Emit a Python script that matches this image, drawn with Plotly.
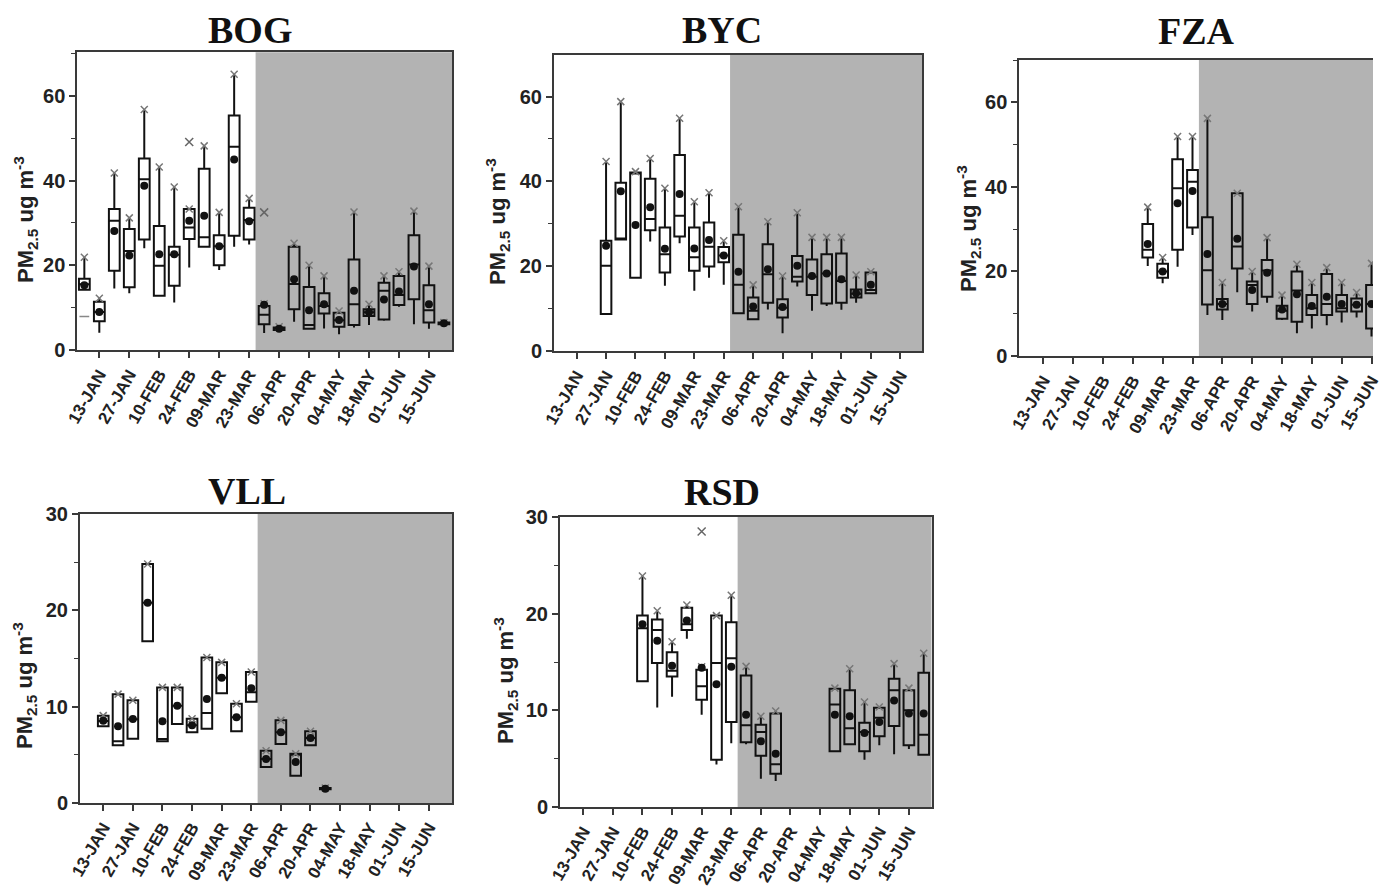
import plotly.graph_objects as go

W, H = 1384, 890

TICK_WEEKS = list(range(0, 23, 2))
TICK_TEXT = ["13-JAN", "27-JAN", "10-FEB", "24-FEB", "09-MAR", "23-MAR",
             "06-APR", "20-APR", "04-MAY", "18-MAY", "01-JUN", "15-JUN"]
SHADE_START = 10.43

# ---------------- BOG ----------------
BOG_WEEK = list(range(-1, 24))
BOG_Q1 = [14.2, 6.8, 18.7, 14.8, 26.1, 12.8, 15.2, 26.2, 24.4, 20.0, 27.0, 26.1, 6.1,
          4.7, 9.6, 5.0, 8.6, 5.5, 5.9, 8.0, 7.2, 10.6, 12.0, 6.5, 6.1]
BOG_MED = [15.5, 9.0, 30.5, 23.4, 40.3, 19.9, 22.5, 28.9, 26.6, 24.5, 48.0, 30.7, 8.3,
           5.0, 15.6, 5.9, 10.4, 7.0, 10.8, 8.9, 14.0, 13.0, 20.2, 9.4, 6.3]
BOG_Q3 = [16.8, 11.4, 33.3, 28.6, 45.2, 29.3, 24.4, 33.3, 42.8, 27.1, 55.4, 33.6, 10.4,
          5.3, 24.4, 14.9, 13.4, 8.8, 21.4, 9.6, 15.9, 17.5, 27.1, 15.3, 6.5]
BOG_LO = [14.2, 4.1, 14.5, 13.4, 24.0, 12.8, 11.2, 19.5, 24.4, 18.9, 24.4, 24.9, 4.0,
          4.5, 6.7, 5.0, 5.1, 3.7, 5.3, 5.9, 6.9, 10.2, 6.1, 5.0, 6.1]
BOG_HI = [21.9, 12.2, 41.8, 31.2, 56.8, 43.2, 38.5, 33.3, 48.2, 32.5, 65.1, 35.8, 10.9,
          5.5, 25.2, 20.0, 17.5, 9.2, 32.6, 10.8, 17.5, 18.5, 32.8, 19.8, 6.5]
BOG_MEAN = [15.3, 9.0, 28.1, 22.3, 38.8, 22.6, 22.6, 30.5, 31.7, 24.5, 45.0, 30.4, 10.7,
            5.0, 16.7, 9.4, 10.8, 7.1, 14.0, 8.9, 11.9, 13.8, 19.7, 10.8, 6.3]
BOG_OUT_WEEK = [6, 11]
BOG_OUT_VAL = [49.1, 32.5]
BOG_MIN_WEEK = [-1]
BOG_MIN_VAL = [7.9]

# ---------------- BYC ----------------
BYC_WEEK = list(range(2, 21))
BYC_Q1 = [8.7, 26.3, 17.3, 28.5, 18.5, 27.0, 18.9, 19.9, 20.9, 8.9, 7.5, 11.4, 7.9,
          16.4, 13.2, 11.2, 11.4, 12.6, 13.6]
BYC_MED = [20.1, 26.5, 42.0, 31.1, 22.8, 31.9, 22.1, 24.6, 22.5, 15.6, 9.5, 18.1, 10.2,
           17.5, 17.5, 18.3, 16.5, 13.5, 14.4]
BYC_Q3 = [26.0, 39.7, 42.1, 40.6, 29.1, 46.2, 29.1, 30.3, 24.5, 27.4, 12.6, 25.2, 12.2,
          22.4, 21.6, 22.8, 23.0, 14.5, 18.5]
BYC_LO = [8.7, 26.3, 17.3, 25.8, 15.4, 25.4, 14.2, 17.3, 15.6, 8.9, 7.5, 9.8, 4.2,
          15.2, 9.5, 10.6, 9.7, 11.4, 13.6]
BYC_HI = [44.7, 58.8, 42.3, 45.4, 38.4, 54.9, 35.2, 37.3, 26.0, 34.0, 15.6, 30.5, 17.7,
          32.6, 26.8, 26.8, 26.8, 17.9, 18.7]
BYC_MEAN = [24.8, 37.7, 29.7, 33.9, 24.1, 37.0, 24.2, 26.2, 22.5, 18.7, 10.5, 19.3, 10.4,
            20.1, 17.7, 18.3, 16.9, 13.6, 15.6]

# ---------------- FZA ----------------
FZA_WEEK = list(range(7, 23))
FZA_Q1 = [23.3, 18.5, 25.1, 30.4, 12.2, 11.0, 20.7, 12.3, 14.0, 8.8, 8.1, 9.7, 9.7, 10.5, 10.5, 6.5]
FZA_MED = [25.1, 20.0, 39.7, 41.2, 20.3, 12.3, 25.9, 16.8, 20.2, 10.7, 15.5, 11.3, 12.3, 11.3, 12.1, 12.3]
FZA_Q3 = [31.2, 21.8, 46.5, 44.0, 32.8, 13.5, 38.5, 17.6, 22.7, 11.9, 20.0, 14.4, 19.4, 14.4, 13.6, 16.8]
FZA_LO = [21.3, 17.2, 21.1, 28.6, 9.7, 8.5, 15.1, 10.5, 12.6, 8.5, 5.4, 6.5, 7.3, 7.9, 9.1, 4.6]
FZA_HI = [35.2, 23.3, 51.9, 51.9, 56.2, 17.4, 38.5, 20.0, 28.0, 14.4, 21.7, 17.4, 20.9, 17.4, 15.0, 21.9]
FZA_MEAN = [26.5, 20.0, 36.1, 39.0, 24.1, 12.3, 27.7, 15.6, 19.7, 11.0, 14.6, 11.8, 14.0, 12.3, 12.1, 12.3]

# ---------------- VLL ----------------
VLL_WEEK = list(range(0, 16))
VLL_Q1 = [7.96, 6.0, 6.68, 16.8, 6.4, 8.2, 7.34, 7.7, 11.4, 7.44, 10.5, 3.74, 6.12, 2.84, 5.99, 1.42]
VLL_MED = [8.5, 6.4, 8.7, 20.8, 6.64, 10.1, 8.06, 9.34, 13.0, 8.9, 11.5, 4.57, 7.34, 5.0, 6.75, 1.49]
VLL_Q3 = [9.07, 11.3, 10.66, 24.8, 12.0, 12.0, 8.75, 15.1, 14.6, 10.3, 13.6, 5.43, 8.58, 5.12, 7.44, 1.56]
VLL_MEAN = [8.55, 7.96, 8.72, 20.8, 8.48, 10.1, 8.06, 10.8, 13.0, 8.9, 11.9, 4.57, 7.34, 4.26, 6.75, 1.49]

# ---------------- RSD ----------------
RSD_WEEK = [4, 5, 6, 7, 8, 9, 10, 11, 12, 13, 17, 18, 19, 20, 21, 22, 23]
RSD_Q1 = [13.0, 14.9, 13.5, 18.3, 11.1, 4.9, 8.8, 6.7, 5.3, 3.45, 5.76, 6.48, 5.76, 7.31, 8.38, 6.4, 5.41]
RSD_MED = [18.5, 18.3, 14.1, 18.9, 12.5, 14.9, 15.4, 8.45, 7.76, 4.41, 10.6, 8.14, 7.76, 9.24, 12.07, 10.0, 7.48]
RSD_Q3 = [19.8, 19.4, 16.0, 20.6, 14.2, 19.8, 19.1, 13.6, 8.5, 9.66, 12.24, 12.07, 8.72, 10.28, 13.28, 12.07, 13.9]
RSD_LO = [13.0, 10.3, 11.4, 17.4, 9.55, 4.4, 6.6, 6.5, 2.93, 2.69, 5.76, 6.48, 4.9, 6.38, 5.45, 6.0, 5.3]
RSD_HI = [23.9, 20.3, 17.1, 20.9, 14.5, 19.8, 21.9, 14.55, 9.38, 9.93, 12.3, 14.3, 10.86, 10.34, 14.83, 12.3, 15.9]
RSD_MEAN = [18.9, 17.2, 14.6, 19.3, 14.4, 12.7, 14.5, 9.55, 6.8, 5.5, 9.55, 9.38, 7.66, 8.79, 11.03, 9.66, 9.66]
RSD_OUT_WEEK = [8]
RSD_OUT_VAL = [28.5]

# ---------------- panel geometry (pixels) ----------------
PANELS = [
    dict(name="BOG", ax="", xpx=(77.3, 452.3), ypx=(52.3, 350), xr=[-1.47, 23.56], yr=[0, 70.3],
         dt=20, title=(250, 30), ytitle=(26, 220), right=True),
    dict(name="BYC", ax="2", xpx=(554, 922.3), ypx=(55, 351), xr=[-1.54, 23.5], yr=[0, 69.8],
         dt=20, title=(722, 30), ytitle=(497, 222), right=True),
    dict(name="FZA", ax="3", xpx=(1019.3, 1373), ypx=(60, 356), xr=[-1.61, 22.1], yr=[0, 70],
         dt=20, title=(1196, 31), ytitle=(968, 229), right=False),
    dict(name="VLL", ax="4", xpx=(80, 452.3), ypx=(514, 803), xr=[-1.57, 23.58], yr=[0, 30],
         dt=10, title=(247, 491), ytitle=(24, 686), right=True),
    dict(name="RSD", ax="5", xpx=(560, 931.7), ypx=(517, 807), xr=[-1.57, 23.54], yr=[0, 30],
         dt=10, title=(722, 492), ytitle=(505, 681), right=True),
]

DATA = {
    "BOG": (BOG_WEEK, BOG_Q1, BOG_MED, BOG_Q3, BOG_LO, BOG_HI, BOG_MEAN),
    "BYC": (BYC_WEEK, BYC_Q1, BYC_MED, BYC_Q3, BYC_LO, BYC_HI, BYC_MEAN),
    "FZA": (FZA_WEEK, FZA_Q1, FZA_MED, FZA_Q3, FZA_LO, FZA_HI, FZA_MEAN),
    "VLL": (VLL_WEEK, VLL_Q1, VLL_MED, VLL_Q3, VLL_Q1, VLL_Q3, VLL_MEAN),
    "RSD": (RSD_WEEK, RSD_Q1, RSD_MED, RSD_Q3, RSD_LO, RSD_HI, RSD_MEAN),
}

fig = go.Figure()
LINE = "#3a3a3a"
SHADE = "#b3b3b3"
TICKFONT = dict(family="Liberation Sans, Arial, sans-serif", size=17, color="#222", weight="bold")
YTICKFONT = dict(family="Liberation Sans, Arial, sans-serif", size=20, color="#222", weight="bold")

annotations = []
shapes = []

for p in PANELS:
    xa = "x" + p["ax"]
    ya = "y" + p["ax"]
    wk, q1, med, q3, lo, hi, mean = DATA[p["name"]]

    fig.add_trace(go.Box(
        x=wk, q1=q1, median=med, q3=q3, lowerfence=lo, upperfence=hi,
        width=0.72, whiskerwidth=0, fillcolor="rgba(0,0,0,0)",
        line=dict(color="#111", width=2), boxpoints=False,
        xaxis=xa, yaxis=ya, showlegend=False, hoverinfo="skip",
    ))
    fig.add_trace(go.Scatter(
        x=wk, y=hi, mode="markers", xaxis=xa, yaxis=ya, showlegend=False, hoverinfo="skip",
        marker=dict(symbol="x-thin", size=7, line=dict(color="#777", width=1.5)),
    ))
    fig.add_trace(go.Scatter(
        x=wk, y=mean, mode="markers", xaxis=xa, yaxis=ya, showlegend=False, hoverinfo="skip",
        marker=dict(symbol="circle", size=8, color="#111"),
    ))

    x0 = p["xpx"][0] / W
    x1 = p["xpx"][1] / W
    y0 = 1 - p["ypx"][1] / H
    y1 = 1 - p["ypx"][0] / H
    axkey = "xaxis" + p["ax"]
    aykey = "yaxis" + p["ax"]
    fig.layout[axkey] = dict(
        domain=[x0, x1], range=p["xr"], anchor=ya, automargin=False,
        tickmode="array", tickvals=TICK_WEEKS, ticktext=TICK_TEXT, tickangle=-60,
        ticks="outside", ticklen=6, tickwidth=1.5, tickcolor=LINE,
        showline=True, linecolor=LINE, linewidth=2, mirror=True,
        showgrid=False, zeroline=False, tickfont=TICKFONT,
    )
    fig.layout[aykey] = dict(
        domain=[y0, y1], range=p["yr"], anchor=xa, automargin=False,
        tickmode="linear", tick0=0, dtick=p["dt"],
        ticks="outside", ticklen=6, tickwidth=1.5, tickcolor=LINE,
        minor=dict(dtick=p["dt"] / 2, ticks="outside", ticklen=4, tickwidth=1.2, tickcolor=LINE),
        showline=True, linecolor=LINE, linewidth=2, mirror=p["right"],
        showgrid=False, zeroline=False, tickfont=YTICKFONT,
    )
    shapes.append(dict(
        type="rect", xref=xa, yref=ya + " domain", x0=SHADE_START, x1=p["xr"][1], y0=0, y1=1,
        fillcolor=SHADE, line=dict(width=0), layer="below",
    ))
    annotations.append(dict(
        text=p["name"], x=p["title"][0] / W, y=1 - p["title"][1] / H, xref="paper", yref="paper",
        showarrow=False, xanchor="center", yanchor="middle",
        font=dict(family="Liberation Serif, Times New Roman, serif", size=38, color="#111", weight="bold"),
    ))
    annotations.append(dict(
        text="PM<sub>2.5</sub> ug m<sup>-3</sup>", x=p["ytitle"][0] / W, y=1 - p["ytitle"][1] / H,
        xref="paper", yref="paper", showarrow=False, textangle=-90,
        xanchor="center", yanchor="middle",
        font=dict(family="Liberation Sans, Arial, sans-serif", size=22, color="#222", weight="bold"),
    ))

# outliers and minimum markers
fig.add_trace(go.Scatter(x=BOG_OUT_WEEK, y=BOG_OUT_VAL, mode="markers", xaxis="x", yaxis="y",
                         showlegend=False, hoverinfo="skip",
                         marker=dict(symbol="x-thin", size=8, line=dict(color="#666", width=1.5))))
fig.add_trace(go.Scatter(x=BOG_MIN_WEEK, y=BOG_MIN_VAL, mode="markers", xaxis="x", yaxis="y",
                         showlegend=False, hoverinfo="skip",
                         marker=dict(symbol="line-ew", size=7, line=dict(color="#888", width=1.5))))
fig.add_trace(go.Scatter(x=RSD_OUT_WEEK, y=RSD_OUT_VAL, mode="markers", xaxis="x5", yaxis="y5",
                         showlegend=False, hoverinfo="skip",
                         marker=dict(symbol="x-thin", size=8, line=dict(color="#666", width=1.5))))

fig.update_layout(
    width=W, height=H, margin=dict(l=0, r=0, t=0, b=0),
    paper_bgcolor="white", plot_bgcolor="white",
    boxmode="overlay", shapes=shapes, annotations=annotations, showlegend=False,
)

fig.write_html(
    "out.html",
    config={"displayModeBar": False},
    post_script="document.body.style.margin='0';document.body.style.overflow='hidden';",
)
